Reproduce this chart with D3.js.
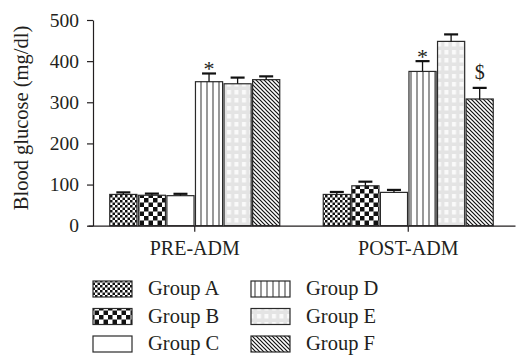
<!DOCTYPE html>
<html>
<head>
<meta charset="utf-8">
<script src="https://cdn.jsdelivr.net/npm/d3@7"></script>
<style>
  html, body { margin: 0; padding: 0; background: #fff; }
  svg { display: block; }
  text { font-family: "Liberation Serif", "DejaVu Serif", serif; fill: #231f20; }
</style>
</head>
<body>
<svg id="chart" width="516" height="355"></svg>
<script>
// ---- data ----
const categories = ["PRE-ADM", "POST-ADM"];
const groups = ["Group A", "Group B", "Group C", "Group D", "Group E", "Group F"];
const preValues  = [76, 74, 73, 350, 345, 355];
const preErrors  = [5, 4, 4.5, 20, 15, 8];
const postValues = [76, 97, 81, 375, 448, 308];
const postErrors = [6, 10, 6, 25, 17, 27];
const yTicks = [0, 100, 200, 300, 400, 500];
const annotations = [
  { category: "PRE-ADM",  group: "Group D", label: "*" },
  { category: "POST-ADM", group: "Group D", label: "*" },
  { category: "POST-ADM", group: "Group F", label: "$" }
];
const yLabel = "Blood glucose (mg/dl)";

const valuesByCat = { "PRE-ADM": preValues, "POST-ADM": postValues };
const errorsByCat = { "PRE-ADM": preErrors, "POST-ADM": postErrors };
const rows = [];
categories.forEach(c => groups.forEach((g, i) => rows.push({
  category: c, group: g, value: valuesByCat[c][i], err: errorsByCat[c][i]
})));

const svg = d3.select("#chart");

// ---- patterns ----
const defs = svg.append("defs");
function pat(id, w, h) {
  return defs.append("pattern").attr("id", id)
    .attr("patternUnits", "userSpaceOnUse").attr("width", w).attr("height", h);
}
// A: fine checker
let p = pat("pA", 5, 5);
p.append("rect").attr("width", 5).attr("height", 5).attr("fill", "#fff");
p.append("rect").attr("width", 2.5).attr("height", 2.5).attr("fill", "#111");
p.append("rect").attr("x", 2.5).attr("y", 2.5).attr("width", 2.5).attr("height", 2.5).attr("fill", "#111");
// B: coarse checker
p = pat("pB", 9, 9);
p.append("rect").attr("width", 9).attr("height", 9).attr("fill", "#fff");
p.append("rect").attr("width", 4.5).attr("height", 4.5).attr("fill", "#111");
p.append("rect").attr("x", 4.5).attr("y", 4.5).attr("width", 4.5).attr("height", 4.5).attr("fill", "#111");
// C: white
p = pat("pC", 4, 4);
p.append("rect").attr("width", 4).attr("height", 4).attr("fill", "#fff");
// D: vertical lines
p = pat("pD", 6, 6);
p.append("rect").attr("width", 6).attr("height", 6).attr("fill", "#fff");
p.append("line").attr("x1", 3).attr("x2", 3).attr("y1", 0).attr("y2", 6)
  .attr("stroke", "#444").attr("stroke-width", 1.1);
// E: light gray with white squares
p = pat("pE", 7.5, 8);
p.append("rect").attr("width", 7.5).attr("height", 8).attr("fill", "#e4e4e4");
p.append("rect").attr("x", 2).attr("y", 2).attr("width", 4).attr("height", 4.5).attr("fill", "#fafafa");
// F: diagonal lines "\"
p = pat("pF", 4, 4);
p.append("rect").attr("width", 4).attr("height", 4).attr("fill", "#fff");
p.append("path").attr("d", "M-1,-1L5,5M-1,3L1,5M3,-1L5,1")
  .attr("stroke", "#111").attr("stroke-width", 1.2);

const fillFor = d3.scaleOrdinal().domain(groups)
  .range(["url(#pA)", "url(#pB)", "url(#pC)", "url(#pD)", "url(#pE)", "url(#pF)"]);

// ---- scales ----
const y = d3.scaleLinear().domain([0, 500]).range([225.7, 20]);
const x0 = d3.scaleBand().domain(categories).range([88, 515]).padding(0);
const groupWidth = 170;
const x1 = d3.scaleBand().domain(groups).range([0, groupWidth]).paddingInner(0.05);
const gx = c => x0(c) + x0.bandwidth() / 2 - groupWidth / 2;

// ---- bars ----
const barG = svg.append("g");
barG.selectAll("rect").data(rows).join("rect")
  .attr("x", d => gx(d.category) + x1(d.group))
  .attr("y", d => y(d.value))
  .attr("width", x1.bandwidth())
  .attr("height", d => y(0) - y(d.value))
  .attr("fill", d => fillFor(d.group))
  .attr("stroke", "#2a2a2a").attr("stroke-width", 1.2);

// ---- error bars ----
const errG = svg.append("g").attr("stroke", "#111");
rows.forEach(d => {
  const cx = gx(d.category) + x1(d.group) + x1.bandwidth() / 2;
  errG.append("line").attr("x1", cx).attr("x2", cx)
    .attr("y1", y(d.value)).attr("y2", y(d.value + d.err)).attr("stroke-width", 1.3);
  errG.append("line").attr("x1", cx - 7).attr("x2", cx + 7)
    .attr("y1", y(d.value + d.err)).attr("y2", y(d.value + d.err)).attr("stroke-width", 2.2);
});

// ---- annotations ----
annotations.forEach(a => {
  const r = rows.find(d => d.category === a.category && d.group === a.group);
  const cx = gx(r.category) + x1(r.group) + x1.bandwidth() / 2;
  const top = y(r.value + r.err);
  svg.append("text").attr("x", cx)
    .attr("y", a.label === "*" ? top + 3 : top - 9)
    .attr("text-anchor", "middle")
    .style("font-size", a.label === "*" ? "22px" : "20px")
    .text(a.label);
});

// ---- axes ----
const yAxis = d3.axisLeft(y).tickValues(yTicks).tickSize(6).tickPadding(8).tickSizeOuter(0);
const yg = svg.append("g").attr("transform", "translate(93,0)").call(yAxis);
yg.selectAll("text").style("font-size", "19.5px").attr("fill", "#231f20");
yg.selectAll("line, path").attr("stroke", "#231f20").attr("stroke-width", 1.2);

const xAxis = d3.axisBottom(x0).tickSize(6).tickSizeOuter(0).tickFormat("");
const xg = svg.append("g").attr("transform", `translate(0,${y(0)})`).call(xAxis);
xg.selectAll("line, path").attr("stroke", "#231f20").attr("stroke-width", 1.2);
xg.selectAll(".tick").append("text").attr("y", 29.5).attr("dy", 0)
  .attr("text-anchor", "middle").style("font-size", "20px").attr("fill", "#231f20")
  .text(d => d);

// y label
svg.append("text")
  .attr("transform", "translate(28,118) rotate(-90)")
  .attr("text-anchor", "middle")
  .style("font-size", "20.5px")
  .text(yLabel);

// ---- legend ----
const legend = svg.append("g");
groups.forEach((g, i) => {
  const col = Math.floor(i / 3), row = i % 3;
  const lx = col === 0 ? 93 : 251;
  const ly = 281 + row * 27.5;
  legend.append("rect").attr("x", lx).attr("y", ly).attr("width", 39).attr("height", 16)
    .attr("fill", fillFor(g)).attr("stroke", "#2a2a2a").attr("stroke-width", 1.2);
  legend.append("text").attr("x", lx + 55).attr("y", ly + 14)
    .style("font-size", "20.5px").text(g);
});
</script>
</body>
</html>
